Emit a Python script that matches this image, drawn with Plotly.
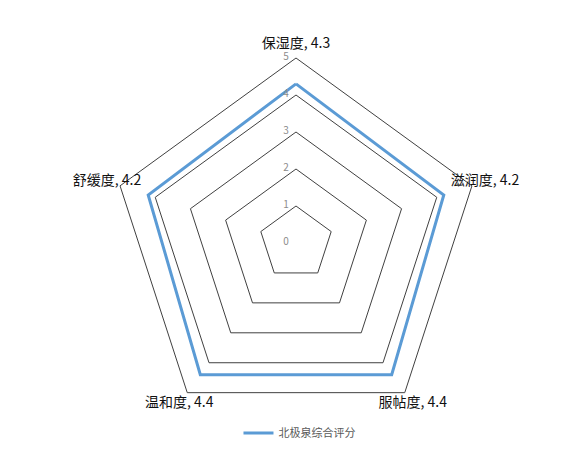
import plotly.graph_objects as go

categories = ["保湿度", "滋润度", "服帖度", "温和度", "舒缓度"]
scores = [4.3, 4.2, 4.4, 4.4, 4.2]
series_name = "北极泉综合评分"
radial_ticks = [0, 1, 2, 3, 4, 5]

label_radius = 5.37
labels = [f"{c}, {v}" for c, v in zip(categories, scores)]

fig = go.Figure()
fig.add_trace(go.Scatterpolar(
    r=scores + scores[:1],
    theta=categories + categories[:1],
    mode="lines",
    name=series_name,
    line=dict(color="#5B9BD5", width=3),
    showlegend=True,
))
fig.add_trace(go.Scatterpolar(
    r=[label_radius] * len(categories),
    theta=categories,
    mode="text",
    text=labels,
    textposition="middle center",
    textfont=dict(family="Noto Sans CJK SC", size=14, color="#111111"),
    showlegend=False,
    cliponaxis=False,
    hoverinfo="skip",
))
# radial tick labels along the first category axis (invisible marker gives the offset)
fig.add_trace(go.Scatterpolar(
    r=[max(t, 1e-3) for t in radial_ticks],
    theta=[categories[0]] * len(radial_ticks),
    mode="markers+text",
    marker=dict(size=10, color="rgba(0,0,0,0)"),
    text=[str(t) for t in radial_ticks],
    textposition="middle left",
    textfont=dict(family="Noto Sans CJK SC", size=10, color="#8c8c8c"),
    showlegend=False,
    cliponaxis=False,
    hoverinfo="skip",
))

fig.update_layout(
    width=578, height=455,
    margin=dict(l=0, r=0, t=0, b=0),
    paper_bgcolor="white",
    plot_bgcolor="white",
    font=dict(family="Noto Sans CJK SC", size=11, color="#595959"),
    polar=dict(
        domain=dict(x=[0.14940, 0.84714], y=[0.04033, 0.92670]),
        gridshape="linear",
        bgcolor="white",
        angularaxis=dict(
            rotation=90, direction="clockwise",
            showline=False, showgrid=False, showticklabels=False, ticks="",
        ),
        radialaxis=dict(
            range=[0, 5.45], angle=90,
            tickvals=radial_ticks, showticklabels=False,
            showline=False, ticks="",
            gridcolor="#404040", gridwidth=1,
        ),
    ),
    legend=dict(
        orientation="h", x=0.5043, xanchor="center", y=0.0659, yanchor="middle",
        font=dict(size=11, color="#595959"),
        bgcolor="rgba(0,0,0,0)",
    ),
)

fig.write_html("out.html")
